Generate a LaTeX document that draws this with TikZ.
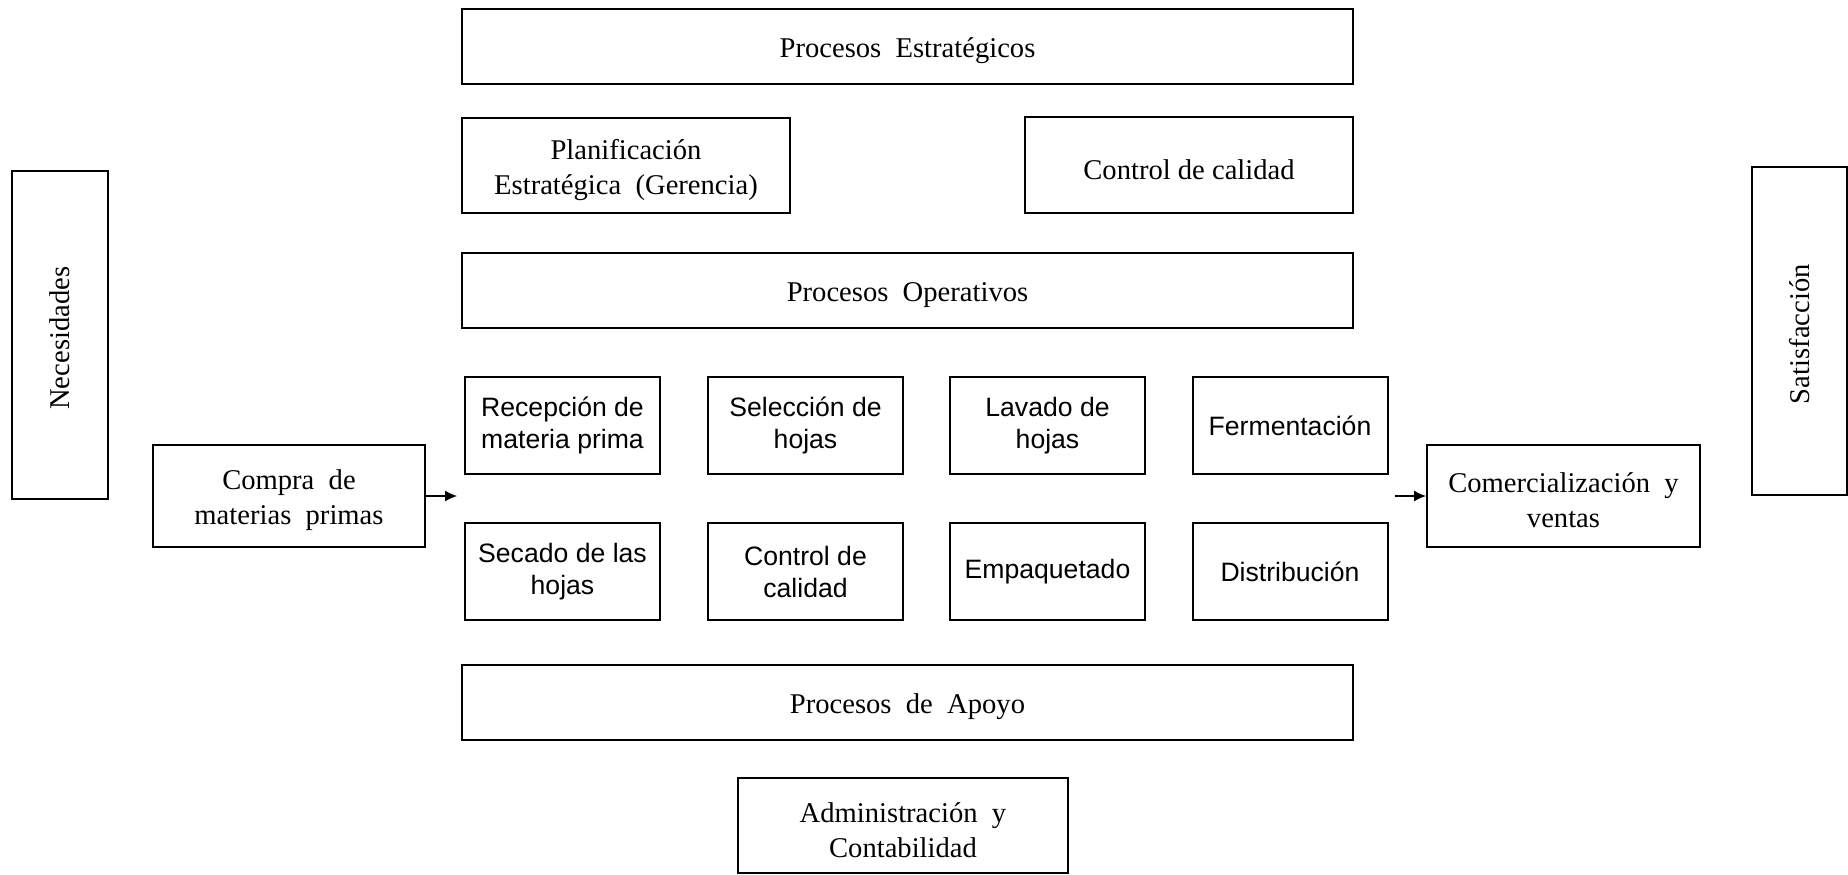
\documentclass[tikz,border=0pt]{standalone}
\usepackage{fontspec}
\setmainfont{Liberation Serif}
\newfontfamily\arialf{Liberation Sans}
\usetikzlibrary{arrows.meta}
\tikzset{
  sbox/.style={draw=black, line width=1pt, rectangle, inner sep=0pt},
  stext/.style={align=center, inner sep=0pt, yshift=-2.3pt,
     font=\fontsize{14.3}{17.5}\selectfont},
  rtext/.style={align=center, inner sep=0pt, yshift=-1.6pt, rotate=90,
     font=\fontsize{14.3}{17.5}\selectfont},
  opbox/.style={draw=black, line width=1pt, rectangle, align=center, inner sep=0pt,
     minimum width=97.5pt, minimum height=48.5pt,
     font=\arialf\fontsize{13.3}{16}\selectfont},
  wide/.style={minimum width=445.5pt, minimum height=37.5pt},
  arr/.style={line width=0.6pt, -{Latex[length=6pt,width=5.5pt]}}
}
\begin{document}
\begin{tikzpicture}[x=0.5pt,y=-0.5pt]
\useasboundingbox (0,0) rectangle (1848,874);
% strategic
\node[sbox, wide] (pe) at (907.5,46.5) {};
\node[stext] (pet) at (pe.center) {Procesos\ \ Estratégicos};
\node[sbox, minimum width=164pt, minimum height=47.5pt] (plan) at (626,165.5) {};
\node[stext] (plant) at (plan.center) {Planificación\\Estratégica\ \ (Gerencia)};
\node[sbox, minimum width=164pt, minimum height=48pt] (cc) at (1189,165) {};
\node[stext] (cct) at (cc.center) {Control\ de\ calidad};
\node[sbox, wide] (po) at (907.5,290) {};
\node[stext] (pot) at (po.center) {Procesos\ \ Operativos};
% sides
\node[sbox, minimum width=48pt, minimum height=164pt] (nec) at (60,335) {};
\node[rtext] (nect) at (nec.center) {Necesidades};
\node[sbox, minimum width=47.5pt, minimum height=164pt] (sat) at (1799.5,331) {};
\node[rtext] (satt) at (sat.center) {Satisfacción};
\node[sbox, minimum width=136pt, minimum height=51pt] (compra) at (289,496) {};
\node[stext] (comprat) at (compra.center) {Compra\ \ de\\materias\ \ primas};
\node[sbox, minimum width=136.5pt, minimum height=51pt] (comer) at (1563.5,496) {};
\node[stext] (comert) at (comer.center) {Comercialización\ \ y\\ventas};
% operative
\node[opbox] (o1) at (562.5,425.5) {Recepción de\\materia prima};
\node[opbox] (o2) at (805.5,425.5) {Selección de\\hojas};
\node[opbox] (o3) at (1047.5,425.5) {Lavado de\\hojas};
\node[opbox] (o4) at (1290,425.5) {Fermentación};
\node[opbox] (o5) at (562.5,571.5) {Secado de las\\hojas};
\node[opbox] (o6) at (805.5,571.5) {Control de\\calidad};
\node[opbox] (o7) at (1047.5,571.5) {Empaquetado};
\node[opbox] (o8) at (1290,571.5) {Distribución};
% support
\node[sbox, wide] (pa) at (907.5,702.5) {};
\node[stext] (pat) at (pa.center) {Procesos\ \ de\ \ Apoyo};
\node[sbox, minimum width=165pt, minimum height=47.5pt] (adm) at (903,825.5) {};
\node[stext] (admt) at (adm.center) {Administración\ \ y\\Contabilidad};
% arrows
\coordinate (a1) at (457,496);
\coordinate (a2) at (1395,496);
\draw[arr] (compra.east) -- (a1);
\draw[arr] (a2) -- (comer.west);
\end{tikzpicture}
\end{document}
